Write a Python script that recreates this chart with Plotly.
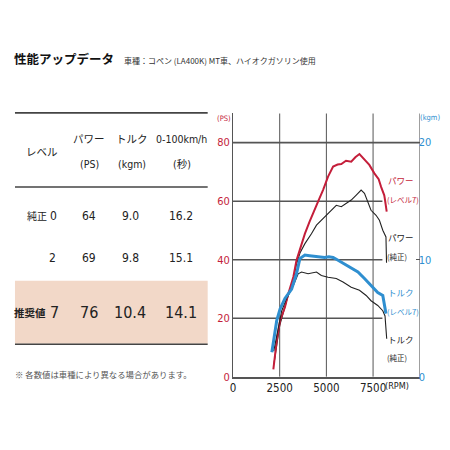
import plotly.graph_objects as go

# --- data ---
rpm_pw7 = [2160, 2340, 2520, 2780, 2960, 3230, 3400, 3580, 3850, 4100, 4380, 4600, 4820,
           5090, 5360, 5600, 5800, 6050, 6330, 6550, 6770, 6900, 7040, 7300, 7570, 7800,
           7930, 8100, 8140, 8230]
ps_pw7 = [2.6, 12.3, 19.2, 23.8, 28.4, 34.1, 39.8, 43.8, 48.9, 53.0, 56.9, 60.5, 63.8,
          68.4, 71.8, 72.5, 72.7, 73.8, 73.5, 75.0, 76.1, 75.2, 74.1, 72.4, 69.5, 67.5,
          64.9, 62.0, 60.4, 56.4]

rpm_pw0 = [2200, 2500, 2870, 3240, 3400, 3600, 3850, 4000, 4200, 4470, 4730, 5000, 5270,
           5530, 5800, 6060, 6330, 6600, 6860, 7040, 7220, 7390, 7660, 7840, 8020, 8190, 8220]
ps_pw0 = [4.8, 17.5, 26.0, 33.6, 38.5, 42.5, 45.5, 46.8, 48.9, 51.8, 53.5, 55.2, 56.9,
          58.6, 58.1, 59.2, 60.4, 62.1, 63.8, 62.7, 59.8, 56.9, 55.2, 53.5, 50.1, 47.8, 39.0]

rpm_tq7 = [2080, 2340, 2520, 2780, 3140, 3400, 3580, 3850, 4100, 4380, 4650, 4910, 5130,
           5360, 5580, 5800, 6240, 6690, 7040, 7390, 7750, 8020, 8140, 8190]
kgm_tq7 = [2.1, 4.8, 5.8, 6.7, 7.5, 8.8, 10.1, 10.4, 10.35, 10.3, 10.25, 10.2, 10.25,
           10.2, 10.0, 9.8, 9.4, 8.95, 8.4, 7.8, 7.2, 6.95, 5.95, 5.4]

rpm_tq0 = [2180, 2430, 2610, 2870, 3230, 3490, 3670, 4020, 4250, 4470, 4730, 5090, 5530,
           5890, 6330, 6770, 7130, 7390, 7750, 8020, 8140, 8230]
kgm_tq0 = [2.2, 4.2, 5.65, 6.7, 7.8, 8.8, 8.95, 8.8, 8.9, 8.95, 8.65, 8.5, 8.4,
           8.1, 7.65, 7.4, 6.95, 6.5, 6.1, 5.65, 5.2, 3.25]

ps_ticks = [0, 20, 40, 60, 80]
kgm_ticks = [0, 10, 20]
rpm_ticks = [0, 2500, 5000, 7500]
rpm_ticktext = ["0", "2500", "5000", "7500"]

table_head = [["レベル"], ["パワー", "(PS)"], ["トルク", "(kgm)"], ["0-100km/h", "(秒)"]]
table_levels = ["純正 0", "2", "推奨値 7"]
table_ps = ["64", "69", "76"]
table_kgm = ["9.0", "9.8", "10.4"]
table_sec = ["16.2", "15.1", "14.1"]

RED = "#c41e3a"
BLUE = "#2f8fd0"
DARK = "#222222"
GRID = "#555555"
JP = "Noto Sans CJK JP"
NARROW = "DejaVu Sans Condensed, Liberation Sans Narrow, Noto Sans CJK JP"

W = H = 450
OFF = 8  # page offset of the figure in the screenshot
YS = 0.9825  # vertical squeeze of the screenshot


def px(x):
    return (x - OFF) / W


def py(y):
    return 1 - (y / YS - OFF) / H


fig = go.Figure()

fig.add_trace(go.Scatter(x=rpm_tq0, y=kgm_tq0, yaxis="y2", mode="lines",
                         line=dict(color=DARK, width=1.1)))
fig.add_trace(go.Scatter(x=rpm_tq7, y=kgm_tq7, yaxis="y2", mode="lines",
                         line=dict(color=BLUE, width=3)))
fig.add_trace(go.Scatter(x=rpm_pw0, y=ps_pw0, mode="lines",
                         line=dict(color=DARK, width=1.1)))
fig.add_trace(go.Scatter(x=rpm_pw7, y=ps_pw7, mode="lines",
                         line=dict(color=RED, width=2)))

shapes = []
# chart grid
for v in ps_ticks[1:]:
    shapes.append(dict(type="line", xref="x", yref="y", x0=0, x1=10000 if v == 80 else 8000,
                       y0=v, y1=v, line=dict(color=GRID, width=1.6), layer="below"))
for v in rpm_ticks[1:]:
    shapes.append(dict(type="line", xref="x", yref="y", x0=v, x1=v, y0=0, y1=90,
                       line=dict(color=GRID, width=1), layer="below"))
shapes.append(dict(type="line", xref="x", yref="y", x0=10000, x1=10000, y0=0, y1=90,
                   line=dict(color=GRID, width=1), layer="below"))

# table rules
for yy in [112.5, 186.5, 343.5]:
    shapes.append(dict(type="line", xref="paper", yref="paper", x0=px(12), x1=px(206),
                       y0=py(yy), y1=py(yy), line=dict(color="#444444", width=1.6)))
shapes.append(dict(type="rect", xref="paper", yref="paper", x0=px(12), x1=px(206),
                   y0=py(343), y1=py(280), fillcolor="#f2d8c8", line=dict(width=0),
                   layer="below"))

ann = []


def text(x, y, s, size, color=DARK, family=JP, anchor="center"):
    ann.append(dict(x=px(x), y=py(y), xref="paper", yref="paper", text=s, showarrow=False,
                    xanchor=anchor, yanchor="middle", borderpad=0,
                    font=dict(size=size, color=color, family=family)))


text(10, 58, "<b>性能アップデータ</b>", 12.5, "#111111", anchor="left")
text(121, 60, "車種：コペン (LA400K) MT車、ハイオクガソリン使用", 8, "#333333", anchor="left")

# table header
col_x = [39, 87, 130, 180]
for cx, lines in zip(col_x, table_head):
    if len(lines) == 1:
        text(cx, 151, lines[0], 10.5)
    else:
        text(cx, 139, lines[0], 10.5, family=NARROW)
        text(cx, 164, lines[1], 10.5, family=NARROW)

row_y = [215, 257, 312]
for i, yy in enumerate(row_y):
    big = i == 2
    lvl = table_levels[i]
    if " " in lvl:
        name, num = lvl.split(" ")
        text(44 if big else 45, yy, f"<b>{name}</b>" if big else name,
             10.5 if big else 10, anchor="right")
        text(46, yy, num, 16 if big else 12, family=NARROW, anchor="left")
    else:
        text(54, yy, lvl, 12, family=NARROW, anchor="right")
    sz = 16 if big else 12
    text(87, yy, table_ps[i], sz, family=NARROW)
    text(128, yy, table_kgm[i], sz, family=NARROW)
    text(179, yy, table_sec[i], sz, family=NARROW)

text(11, 373, "※ 各数値は車種により異なる場合があります。", 8.4, "#555555", anchor="left")

# chart labels
text(230, 118, "(PS)", 7.5, RED, family=NARROW, anchor="right")
text(419, 117, "(kgm)", 7.5, BLUE, family=NARROW, anchor="left")
text(384, 385, "(RPM)", 9, DARK, family=NARROW, anchor="left")

text(387, 180, "パワー", 8.5, RED, anchor="left")
text(386, 199, "(レベル7)", 7.5, RED, anchor="left")
text(387, 236, "パワー", 8.5, DARK, anchor="left")
text(386, 256, "(純正)", 7.5, DARK, anchor="left")
text(387, 291, "トルク", 8.5, BLUE, anchor="left")
text(386, 311, "(レベル7)", 7.5, BLUE, anchor="left")
text(387, 338, "トルク", 8.5, DARK, anchor="left")
text(386, 357, "(純正)", 7.5, DARK, anchor="left")

fig.update_layout(
    width=W, height=H, margin=dict(l=0, r=0, t=0, b=0),
    paper_bgcolor="white", plot_bgcolor="white", showlegend=False,
    shapes=shapes, annotations=ann,
    xaxis=dict(domain=[px(231.5), px(419.5)], range=[0, 10000], showgrid=False,
               zeroline=False, showline=True, linecolor=GRID, linewidth=1.6,
               tickvals=rpm_ticks, ticktext=rpm_ticktext, ticks="",
               tickfont=dict(family=NARROW, size=11.5, color=DARK)),
    yaxis=dict(domain=[py(376), py(113)], range=[0, 90], showgrid=False, zeroline=False,
               showline=True, linecolor=GRID, linewidth=1, tickvals=ps_ticks, ticks="",
               tickfont=dict(family=NARROW, size=11, color=RED)),
    yaxis2=dict(overlaying="y", side="right", range=[0, 22.5], showgrid=False,
                zeroline=False, showline=False, tickvals=kgm_ticks, ticks="inside",
                ticklen=4, tickcolor=GRID, ticklabelstandoff=-2,
                tickfont=dict(family=NARROW, size=11, color=BLUE)),
)

fig.write_html("out.html")
